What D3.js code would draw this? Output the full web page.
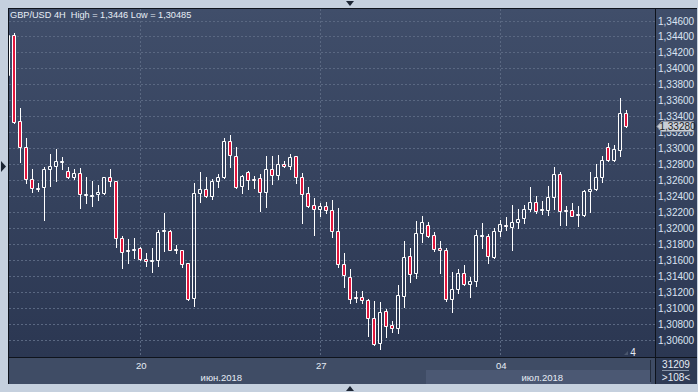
<!DOCTYPE html>
<html><head><meta charset="utf-8">
<script src="https://cdn.jsdelivr.net/npm/d3@7"></script>
<style>html,body{margin:0;padding:0;background:#c5d0de;overflow:hidden}svg{display:block}</style>
</head><body>
<svg id="c" width="698" height="392"></svg>
<script>
// ---- data (GBP/USD 4H candles, index 0 = partially visible at left edge) ----
const openP  = [1.33917,1.34414,1.33337,1.33011,1.32610,1.32493,1.32510,1.32735,1.32777,1.32823,1.32710,1.32635,1.32685,1.32414,1.32405,1.32422,1.32443,1.32635,1.32585,1.31871,1.31725,1.31721,1.31746,1.31608,1.31587,1.31596,1.31959,1.31959,1.31733,1.31721,1.31558,1.31119,1.32435,1.32485,1.32397,1.32585,1.32635,1.33086,1.32898,1.32523,1.32702,1.32610,1.32623,1.32447,1.32735,1.32660,1.32798,1.32773,1.32898,1.32635,1.32435,1.32285,1.32234,1.32272,1.32222,1.31959,1.31545,1.31383,1.31136,1.31132,1.31099,1.30869,1.30556,1.30957,1.30781,1.30744,1.31153,1.31646,1.31433,1.31934,1.32034,1.31909,1.31746,1.31721,1.31115,1.31232,1.31433,1.31295,1.31332,1.31900,1.31896,1.31641,1.31963,1.32042,1.32017,1.32072,1.32122,1.32239,1.32322,1.32222,1.32230,1.32385,1.32673,1.32226,1.32222,1.32159,1.32163,1.32460,1.32489,1.32635,1.33011,1.32857,1.32973,1.33437];
const highP  = [1.34460,1.34439,1.33500,1.33124,1.32735,1.32568,1.32761,1.32923,1.32986,1.32886,1.32761,1.32735,1.32756,1.32639,1.32585,1.32539,1.32640,1.32735,1.32590,1.31900,1.31863,1.31871,1.31767,1.31692,1.31746,1.31976,1.32188,1.31976,1.31783,1.31725,1.31560,1.32560,1.32697,1.32635,1.32614,1.32677,1.33124,1.33161,1.33015,1.32665,1.32715,1.32648,1.32677,1.32903,1.32903,1.32915,1.32840,1.32928,1.32900,1.32690,1.32510,1.32376,1.32310,1.32322,1.32351,1.32247,1.31683,1.31487,1.31211,1.31207,1.31107,1.31082,1.31078,1.30990,1.30840,1.31282,1.31833,1.31746,1.32088,1.32151,1.32080,1.31950,1.31833,1.31746,1.31453,1.31483,1.31533,1.31383,1.31971,1.32059,1.31921,1.31996,1.32101,1.32143,1.32289,1.32234,1.32289,1.32514,1.32401,1.32339,1.32527,1.32765,1.32702,1.32276,1.32314,1.32276,1.32477,1.32702,1.32802,1.32903,1.33065,1.33036,1.33625,1.33479];
const lowP   = [1.33900,1.33320,1.32832,1.32568,1.32456,1.32468,1.32101,1.32531,1.32594,1.32744,1.32630,1.32610,1.32255,1.32318,1.32280,1.32351,1.32431,1.32531,1.31767,1.31504,1.31566,1.31629,1.31605,1.31529,1.31454,1.31529,1.31717,1.31720,1.31692,1.31516,1.31099,1.31028,1.32330,1.32395,1.32368,1.32518,1.32630,1.32769,1.32497,1.32443,1.32489,1.32506,1.32218,1.32268,1.32556,1.32619,1.32761,1.32735,1.32560,1.32067,1.32268,1.31917,1.32155,1.32184,1.31892,1.31508,1.31266,1.31057,1.31078,1.31057,1.30652,1.30540,1.30485,1.30639,1.30702,1.30689,1.31007,1.31328,1.31378,1.31825,1.31890,1.31717,1.31441,1.31090,1.30952,1.31190,1.31286,1.31140,1.31278,1.31746,1.31566,1.31630,1.31904,1.31975,1.31725,1.32005,1.32059,1.32218,1.32188,1.32180,1.32163,1.32234,1.32038,1.32038,1.32150,1.32030,1.32151,1.32205,1.32477,1.32581,1.32844,1.32844,1.32903,1.33270];
const closeP = [1.34418,1.33333,1.33011,1.32610,1.32497,1.32506,1.32735,1.32777,1.32836,1.32836,1.32635,1.32685,1.32422,1.32426,1.32418,1.32447,1.32635,1.32585,1.31871,1.31696,1.31712,1.31733,1.31608,1.31587,1.31600,1.31946,1.31971,1.31725,1.31721,1.31545,1.31111,1.32435,1.32485,1.32397,1.32585,1.32635,1.33086,1.32911,1.32510,1.32648,1.32598,1.32598,1.32447,1.32735,1.32660,1.32798,1.32773,1.32886,1.32635,1.32422,1.32280,1.32234,1.32272,1.32222,1.31959,1.31545,1.31416,1.31115,1.31124,1.31094,1.30869,1.30543,1.30944,1.30769,1.30744,1.31157,1.31633,1.31420,1.31934,1.32072,1.31896,1.31742,1.31721,1.31115,1.31232,1.31433,1.31295,1.31332,1.31909,1.31909,1.31646,1.31963,1.32047,1.32026,1.32072,1.32109,1.32234,1.32322,1.32218,1.32234,1.32385,1.32673,1.32218,1.32214,1.32155,1.32172,1.32460,1.32485,1.32635,1.32848,1.32857,1.32986,1.33437,1.33280];
const priceTicks = [1.346,1.344,1.342,1.340,1.338,1.336,1.334,1.332,1.330,1.328,1.326,1.324,1.322,1.320,1.318,1.316,1.314,1.312,1.310,1.308,1.306];
const dayTickIndex = [22, 52, 82];
const dayTickLabels = ["20", "27", "04"];
const monthLabelIndex = [35.5, 89];
const monthLabels = ["июн.2018", "июл.2018"];
const lastPrice = 1.33280;
const titleText = "GBP/USD 4H  High = 1,3446 Low = 1,30485";
const infoTop = "31209", infoBottom = ">108<", barLabel = "4";

// ---- layout ----
const FONT = "'Liberation Sans', Arial, sans-serif";
const plot = {x0: 9, x1: 655, y0: 9, y1: 357};
const svg = d3.select("#c");
const x = d3.scaleLinear().domain([1, 103]).range([14.33, 626.33]);
const y = d3.scaleLinear().domain([1.306, 1.346]).range([339.8, 20.5]);
const fmt = v => d3.format(".5f")(v).replace(".", ",");

const defs = svg.append("defs");
const g1 = defs.append("linearGradient").attr("id", "bg").attr("gradientUnits", "userSpaceOnUse")
  .attr("x1", 0).attr("y1", plot.y0).attr("x2", 0).attr("y2", plot.y1);
g1.append("stop").attr("offset", 0).attr("stop-color", "#404e6a");
g1.append("stop").attr("offset", 1).attr("stop-color", "#2b3752");
defs.append("clipPath").attr("id", "clip").append("rect")
  .attr("x", plot.x0).attr("y", plot.y0).attr("width", plot.x1 - plot.x0).attr("height", plot.y1 - plot.y0);

// frame
svg.append("rect").attr("width", 698).attr("height", 392).attr("fill", "#c5d0de");
svg.append("rect").attr("x", 8).attr("y", 8).attr("width", 689).attr("height", 376).attr("fill", "#0e131c");
svg.append("rect").attr("x", plot.x0).attr("y", plot.y0).attr("width", plot.x1 - plot.x0).attr("height", plot.y1 - plot.y0).attr("fill", "url(#bg)");
svg.append("rect").attr("x", 656).attr("y", plot.y0).attr("width", 41).attr("height", plot.y1 - plot.y0).attr("fill", "url(#bg)");
svg.append("rect").attr("x", plot.x0).attr("y", 358).attr("width", plot.x1 - plot.x0).attr("height", 26).attr("fill", "#3f4c65");
svg.append("rect").attr("x", Math.round(x(70)) - 2).attr("y", 370).attr("width", 651 - (Math.round(x(70)) - 2)).attr("height", 14).attr("fill", "#4b5873");
svg.append("rect").attr("x", 650).attr("y", 360).attr("width", 1).attr("height", 22).attr("fill", "#232c3c");
svg.append("rect").attr("x", 656).attr("y", 358).attr("width", 41).attr("height", 26).attr("fill", "#2f3b55");

// arrows on frame
const tri = (pts, c) => svg.append("path").attr("d", "M" + pts.map(p => p.join(",")).join("L") + "Z").attr("fill", c);
tri([[346, 1], [354, 1], [350, 6]], "#1c2534");
tri([[346, 391], [354, 391], [350, 386]], "#1c2534");
tri([[1, 161], [6, 166.5], [1, 172]], "#1c2534");

// grid
const grid = svg.append("g").attr("stroke", "#5a6882").attr("stroke-width", 1).attr("stroke-dasharray", "2,2");
grid.selectAll("line.h").data(priceTicks).join("line").attr("class", "h")
  .attr("x1", plot.x0).attr("x2", plot.x1)
  .attr("y1", d => Math.round(y(d)) + 0.5).attr("y2", d => Math.round(y(d)) + 0.5);
grid.selectAll("line.v").data(dayTickIndex).join("line").attr("class", "v")
  .attr("y1", plot.y0).attr("y2", plot.y1)
  .attr("x1", d => Math.round(x(d)) + 0.5).attr("x2", d => Math.round(x(d)) + 0.5);

// candles
const candles = openP.map((o, i) => ({i, o, h: highP[i], l: lowP[i], c: closeP[i]}));
const cg = svg.append("g").attr("clip-path", "url(#clip)");
candles.forEach(d => {
  const cx = Math.round(x(d.i));
  const top = Math.round(y(Math.max(d.o, d.c))) + 0.5;
  const bot = Math.round(y(Math.min(d.o, d.c))) + 0.5;
  const hi = Math.round(y(d.h)), lo = Math.round(y(d.l)) + 1;
  if (hi < top) cg.append("line").attr("x1", cx + 0.5).attr("x2", cx + 0.5).attr("y1", hi).attr("y2", top).attr("stroke", "#fff");
  if (lo > bot) cg.append("line").attr("x1", cx + 0.5).attr("x2", cx + 0.5).attr("y1", bot).attr("y2", lo).attr("stroke", "#fff");
  const x0 = cx - 1.5, x1 = cx + 1.5;
  cg.append("path").attr("d", `M${x0},${top}H${x1}V${bot}H${x0}Z`)
    .attr("fill", d.c >= d.o ? "none" : "#e2163d").attr("stroke", "#fff").attr("stroke-width", 1);
});

// title
svg.append("text").attr("x", 10).attr("y", 18).attr("font-family", FONT).attr("font-size", 9.2)
  .attr("fill", "#e8eef7").attr("xml:space", "preserve").text(titleText);

// price axis
const yAxis = d3.axisRight(y).tickValues(priceTicks).tickSize(0).tickPadding(0).tickFormat(fmt);
const ya = svg.append("g").attr("transform", "translate(658,0)").call(yAxis);
ya.select(".domain").remove();
ya.selectAll("text").attr("font-family", FONT).attr("font-size", 10).attr("fill", "#dbe4f2").attr("x", 0).attr("dy", "0.35em");

// last price marker
const ly = Math.round(y(lastPrice)) + 0.5;
const mk = svg.append("g");
mk.append("path").attr("d", `M657,${ly}L661.5,${ly - 5}H693.5V${ly + 5}H661.5Z`).attr("fill", "#c9ced6").attr("stroke", "#8e96a4");
mk.append("text").attr("x", 677.5).attr("y", ly).attr("dy", "0.35em").attr("text-anchor", "middle")
  .attr("font-family", FONT).attr("font-size", 10).attr("fill", "#1b1f27").text(fmt(lastPrice));

// time axis
const xAxis = d3.axisBottom(x).tickValues(dayTickIndex).tickSize(0).tickPadding(0).tickFormat((d, k) => dayTickLabels[k]);
const xa = svg.append("g").attr("transform", "translate(0.5,362)").call(xAxis);
xa.select(".domain").remove();
xa.selectAll("text").attr("font-family", FONT).attr("font-size", 9.5).attr("fill", "#e6ecf5");
svg.append("g").selectAll("text").data(monthLabels).join("text")
  .attr("x", (d, k) => x(monthLabelIndex[k])).attr("y", 380.5).attr("text-anchor", "middle")
  .attr("font-family", FONT).attr("font-size", 9.5).attr("fill", "#e6ecf5").text(d => d);

// bar counter & info box
tri([[624, 355], [628, 351], [628, 355]], "#4a566d");
svg.append("text").attr("x", 633).attr("y", 356).attr("text-anchor", "middle").attr("font-family", FONT)
  .attr("font-size", 10).attr("fill", "#e6ecf5").text(barLabel);
svg.append("text").attr("x", 676).attr("y", 368).attr("text-anchor", "middle").attr("font-family", FONT)
  .attr("font-size", 10).attr("fill", "#e6ecf5").text(infoTop);
svg.append("rect").attr("x", 662).attr("y", 370).attr("width", 27).attr("height", 1).attr("fill", "#8793a8");
svg.append("text").attr("x", 676).attr("y", 381).attr("text-anchor", "middle").attr("font-family", FONT)
  .attr("font-size", 10).attr("fill", "#e6ecf5").text(infoBottom);
</script>
</body></html>
